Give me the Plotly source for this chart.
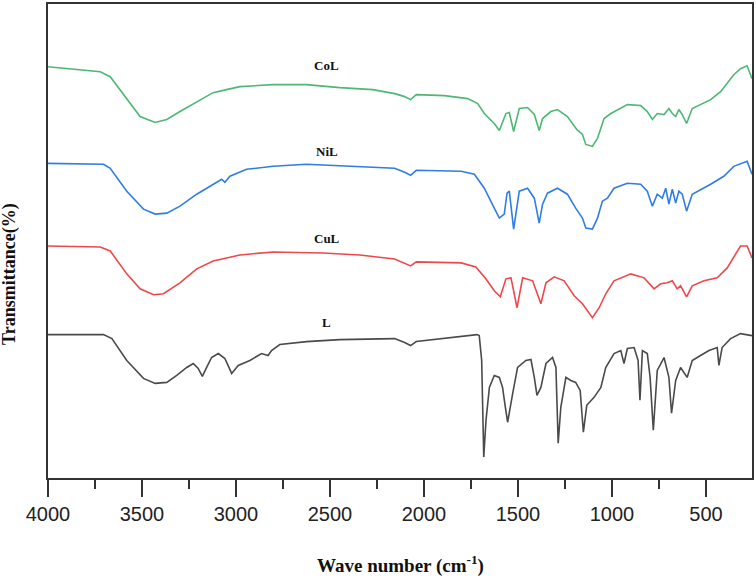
import plotly.graph_objects as go

# ---- data (arbitrary offset transmittance units) ----
col_wn = [4000, 3722, 3669, 3581, 3510, 3430, 3368, 3298, 3209, 3122, 3050, 2979, 2804, 2625, 2448, 2273,
          2156, 2103, 2071, 2041, 1891, 1767, 1714, 1679, 1626, 1599, 1564, 1546, 1523, 1493, 1449, 1413,
          1387, 1369, 1325, 1290, 1237, 1201, 1187, 1157, 1139, 1104, 1077, 1042, 1006, 918, 847, 812,
          785, 759, 723, 697, 679, 661, 644, 626, 603, 573, 475, 422, 352, 316, 281, 255]
col_t = [413, 408, 403, 381, 363, 357, 360, 368, 378, 387, 390, 393, 395, 395, 392, 390,
         386, 383, 380, 385, 384, 381, 376, 366, 356, 349, 366, 367, 348, 371, 372, 365,
         349, 361, 368, 370, 363, 353, 350, 345, 335, 333, 341, 361, 366, 375, 374, 368,
         360, 366, 365, 371, 366, 363, 370, 365, 356, 371, 380, 388, 405, 411, 414, 401]

nil_wn = [4000, 3705, 3669, 3581, 3492, 3430, 3368, 3298, 3209, 3121, 3076, 3059, 3032, 2944, 2803, 2625,
          2360, 2156, 2103, 2071, 2041, 1802, 1732, 1679, 1626, 1599, 1573, 1558, 1546, 1523, 1493, 1449,
          1413, 1387, 1369, 1343, 1290, 1237, 1193, 1157, 1139, 1104, 1077, 1051, 1024, 989, 918, 847,
          812, 785, 759, 732, 714, 697, 679, 661, 644, 626, 603, 573, 475, 405, 352, 281, 255]
nil_t = [316, 315, 311, 288, 270, 265, 266, 273, 285, 295, 300, 297, 303, 310, 313, 315,
         313, 311, 307, 304, 309, 308, 305, 291, 271, 261, 265, 286, 288, 250, 288, 291,
         281, 256, 275, 286, 291, 285, 271, 261, 251, 250, 261, 278, 281, 291, 296, 295,
         288, 273, 285, 281, 291, 275, 290, 276, 288, 285, 268, 285, 295, 303, 313, 318, 305]

cul_wn = [4000, 3722, 3669, 3581, 3510, 3439, 3386, 3298, 3209, 3121, 2979, 2803, 2537, 2342, 2156, 2103,
          2071, 2041, 1802, 1724, 1671, 1626, 1594, 1564, 1537, 1505, 1475, 1422, 1378, 1351, 1307, 1254,
          1201, 1157, 1104, 1068, 1033, 989, 900, 829, 776, 741, 706, 679, 653, 635, 603, 573,
          511, 440, 387, 316, 281, 255]
cul_t = [233, 232, 228, 205, 190, 184, 185, 196, 210, 218, 224, 227, 226, 224, 220, 216,
         213, 217, 216, 212, 200, 188, 182, 200, 201, 171, 201, 198, 175, 196, 202, 198,
         183, 175, 161, 171, 185, 198, 205, 201, 190, 195, 196, 198, 190, 193, 182, 193,
         198, 201, 211, 233, 233, 221]

l_wn = [4000, 3705, 3660, 3581, 3492, 3430, 3368, 3315, 3262, 3227, 3201, 3179, 3156, 3130, 3094, 3059,
        3023, 2988, 2926, 2864, 2829, 2811, 2767, 2625, 2448, 2156, 2103, 2071, 2041, 1891, 1718, 1706,
        1693, 1682, 1670, 1652, 1626, 1599, 1582, 1567, 1555, 1528, 1502, 1458, 1431, 1413, 1399, 1378,
        1351, 1316, 1298, 1286, 1272, 1245, 1219, 1193, 1169, 1152, 1134, 1095, 1059, 1033, 989, 953,
        936, 918, 882, 861, 851, 838, 812, 797, 780, 759, 723, 697, 683, 661, 635, 600,
        573, 529, 484, 440, 431, 414, 369, 316, 255]
l_t = [144, 144, 140, 118, 100, 95, 96, 103, 111, 115, 110, 102, 111, 121, 125, 120,
       105, 113, 118, 125, 123, 128, 134, 137, 139, 140, 136, 133, 137, 140, 144, 143,
       118, 21, 58, 91, 103, 101, 91, 71, 56, 85, 111, 118, 119, 101, 83, 91,
       115, 121, 111, 35, 71, 101, 98, 96, 88, 46, 73, 81, 91, 111, 125, 128,
       115, 130, 131, 118, 78, 128, 125, 101, 48, 108, 121, 101, 65, 98, 111, 101,
       118, 123, 128, 131, 113, 131, 140, 145, 143]

labels = ["CoL", "NiL", "CuL", "L"]
label_wn = [2517, 2517, 2517, 2517]
label_t = [414, 328, 241, 156]

x_ticks = [4000, 3500, 3000, 2500, 2000, 1500, 1000, 500]

series = [
    (col_wn, col_t, "#4cb874"),
    (nil_wn, nil_t, "#2f7de6"),
    (cul_wn, cul_t, "#f0474a"),
    (l_wn, l_t, "#4a4a4a"),
]

fig = go.Figure()
for wn, t, c in series:
    fig.add_trace(go.Scatter(x=wn, y=t, mode="lines",
                             line=dict(color=c, width=1.6), showlegend=False))

for name, xv, yv in zip(labels, label_wn, label_t):
    fig.add_annotation(x=xv, y=yv, text="<b>%s</b>" % name, showarrow=False,
                       font=dict(family="Liberation Serif", size=13, color="#111"),
                       xanchor="center", yanchor="middle")

fig.add_annotation(xref="paper", yref="paper", x=(401 - 48) / 705, y=(478 - 565) / 476,
                   text="<b>Wave number (cm<sup>-1</sup>)</b>", showarrow=False,
                   font=dict(family="Liberation Serif", size=19, color="#111"),
                   xanchor="center", yanchor="middle")
fig.add_annotation(xref="paper", yref="paper", x=(10 - 48) / 705, y=(478 - 273) / 476,
                   text="<b>Transmittance(%)</b>", showarrow=False, textangle=-90,
                   font=dict(family="Liberation Serif", size=18, color="#111"),
                   xanchor="center", yanchor="middle")

fig.update_xaxes(range=[4000, 255], tickvals=x_ticks, ticks="outside", ticklen=17,
                 tickwidth=2, tickcolor="#333", showline=True, linewidth=2, linecolor="#333",
                 mirror=True, showgrid=False, zeroline=False,
                 tickfont=dict(family="Liberation Sans", size=20, color="#222"),
                 minor=dict(dtick=250, tick0=0, ticks="outside", ticklen=9, tickwidth=2,
                            tickcolor="#333", showgrid=False))
fig.update_yaxes(range=[0, 476], showticklabels=False, ticks="", showline=True, linewidth=2,
                 linecolor="#333", mirror=True, showgrid=False, zeroline=False)

fig.update_layout(width=756, height=579, margin=dict(l=48, r=3, t=2, b=101),
                  plot_bgcolor="white", paper_bgcolor="white")

fig.write_html("out.html")
